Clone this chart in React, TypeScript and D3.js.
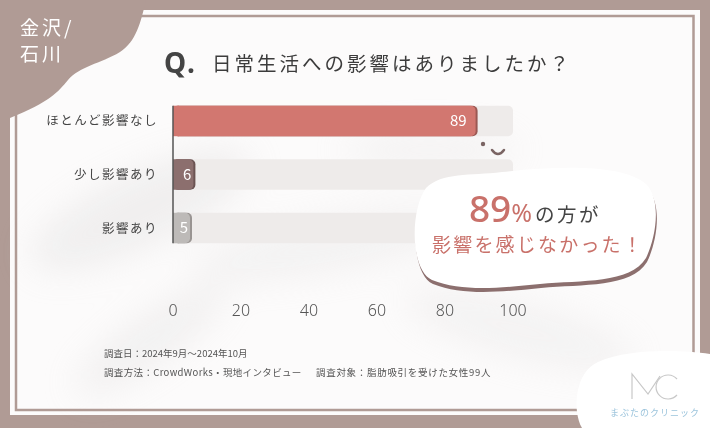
import * as d3 from 'd3';

const categories = ['ほとんど影響なし', '少し影響あり', '影響あり'];
const values = [89, 6, 5];
const barColors = ['#d27770', '#8c6f6e', '#bdbab8'];
const shadowColors = ['#9a5853', '#6b5352', '#999492'];
const tickValues = [0, 20, 40, 60, 80, 100];

const W = 710;
const H = 428;
const JP = '"Noto Sans CJK JP", "Noto Sans", sans-serif';
const MAUVE = '#b09b95';

const App = () => {
  const x = d3.scaleLinear().domain([0, 100]).range([173, 513]);
  const y = d3.scaleBand<string>().domain(categories).range([95, 254]).paddingInner(0.43).paddingOuter(0.2);
  const bh = y.bandwidth();

  const cornerBlob = 'M0,0 L146,0 C141,22 136,42 120,52 C100,64 80,66 68,80 C58,92 50,102 10,118 L0,118 Z';
  const bubble =
    'M426,188 C442,172 470,176 502,172 C560,166 622,164 646,184 C662,200 656,238 646,258 C630,284 582,280 540,284 C500,288 462,292 432,280 C410,270 410,210 426,188 Z';
  const logoBlob = 'M598,362 C630,348 680,350 710,354 L710,428 L582,428 C572,410 575,372 598,362 Z';

  return (
    <svg width={W} height={H} style={{ position: 'fixed', left: 0, top: 0 }} fontFamily={JP}>
      <defs>
        <filter id="blur" x="-50%" y="-50%" width="200%" height="200%">
          <feGaussianBlur stdDeviation="18" />
        </filter>
      </defs>
      <rect width={W} height={H} fill={MAUVE} />
      <rect x={10} y={10} width={690} height={405} fill="#fcfbfb" />
      <g filter="url(#blur)" opacity={0.3}>
        <ellipse cx={140} cy={210} rx={120} ry={35} fill="#d4d2d2" transform="rotate(-25 140 210)" />
        <ellipse cx={330} cy={245} rx={140} ry={25} fill="#dedcdc" transform="rotate(-10 330 245)" />
        <ellipse cx={150} cy={340} rx={90} ry={22} fill="#d8d6d6" transform="rotate(-35 150 340)" />
        <ellipse cx={520} cy={330} rx={120} ry={26} fill="#e0dede" transform="rotate(15 520 330)" />
        <ellipse cx={430} cy={150} rx={90} ry={18} fill="#e2e0e0" />
      </g>
      <rect x={16} y={16} width={677.5} height={394} fill="none" stroke={MAUVE} strokeWidth={2.5} />
      <path d={cornerBlob} fill={MAUVE} />
      <text x={20} y={35} fill="#fff" fontSize={19} letterSpacing={3}>金沢/</text>
      <text x={20} y={61} fill="#fff" fontSize={19} letterSpacing={3}>石川</text>

      <text x={164} y={73} fill="#444" fontSize={28} fontWeight={700} fontFamily='"Noto Sans", sans-serif' letterSpacing={2}>Q.</text>
      <text x={212} y={71} fill="#3c3c3c" fontSize={19.5} letterSpacing={3}>日常生活への影響はありましたか？</text>

      {categories.map((c, i) => {
        const yy = y(c)!;
        return (
          <g key={c}>
            <rect x={x(0)} y={yy} width={x(100) - x(0)} height={bh} rx={5} fill="#eeebea" />
            <rect x={x(0)} y={yy} width={x(values[i]) - x(0) + 2} height={bh} rx={5} fill={shadowColors[i]} />
            <rect x={x(0)} y={yy} width={x(values[i]) - x(0)} height={bh} rx={5} fill={barColors[i]} />
            <rect x={x(0)} y={yy} width={6} height={bh} fill={barColors[i]} />
            <text
              x={x(values[i]) - (values[i] > 20 ? 9 : 2)}
              y={yy + bh / 2}
              dy="0.36em"
              textAnchor="end"
              fill="#fff"
              fontSize={15}
            >
              {values[i]}
            </text>
            <text x={158} y={yy + bh / 2} dy="0.36em" textAnchor="end" fill="#444" fontSize={12.5} letterSpacing={1.5}>
              {c}
            </text>
          </g>
        );
      })}
      <line x1={x(0)} x2={x(0)} y1={y(categories[0])!} y2={y(categories[2])! + bh} stroke="#555" strokeWidth={1.5} />

      <circle cx={483} cy={144} r={2.2} fill="#7a6463" />
      <path d="M492,150 Q498,158 504,150" fill="none" stroke="#7a6463" strokeWidth={2.5} strokeLinecap="round" />

      {tickValues.map(t => (
        <text key={t} x={x(t)} y={316} textAnchor="middle" fill="#555" fontSize={16} fontFamily='"Noto Sans", sans-serif' fontWeight={300}>
          {t}
        </text>
      ))}

      <path d={bubble} fill="#8c6f6e" transform="translate(1,4)" />
      <path d={bubble} fill="#fff" />
      <text x={535} y={222} textAnchor="middle">
        <tspan fill="#c9716a" fontSize={37} fontFamily='"Noto Sans", sans-serif' fontWeight={500}>89</tspan>
        <tspan fill="#c9716a" fontSize={25} fontFamily='"Noto Sans", sans-serif'>%</tspan>
        <tspan fill="#444" fontSize={19.5} dx={3} letterSpacing={2.5}>の方が</tspan>
      </text>
      <text x={538} y={252} textAnchor="middle" fill="#c9716a" fontSize={19} letterSpacing={2.2}>影響を感じなかった！</text>

      <text x={104} y={357} fill="#555" fontSize={9.5}>調査日：2024年9月～2024年10月</text>
      <text x={104} y={376} fill="#555" fontSize={9.5} letterSpacing={0.35}>調査方法：CrowdWorks・現地インタビュー</text>
      <text x={316} y={376} fill="#555" fontSize={9.5} letterSpacing={0.7}>調査対象：脂肪吸引を受けた女性99人</text>

      <path d={logoBlob} fill="#fff" />
      <path d="M632,399 L632,374 L648,394 L660,376" fill="none" stroke="#c8c8c8" strokeWidth={1.2} />
      <path d="M677,379 A12,12 0 1,0 677,395" fill="none" stroke="#c8c8c8" strokeWidth={1.2} />
      <text x={655} y={416} textAnchor="middle" fill="#9cc4dc" fontSize={9} letterSpacing={1}>まぶたのクリニック</text>
    </svg>
  );
};

export default App;
